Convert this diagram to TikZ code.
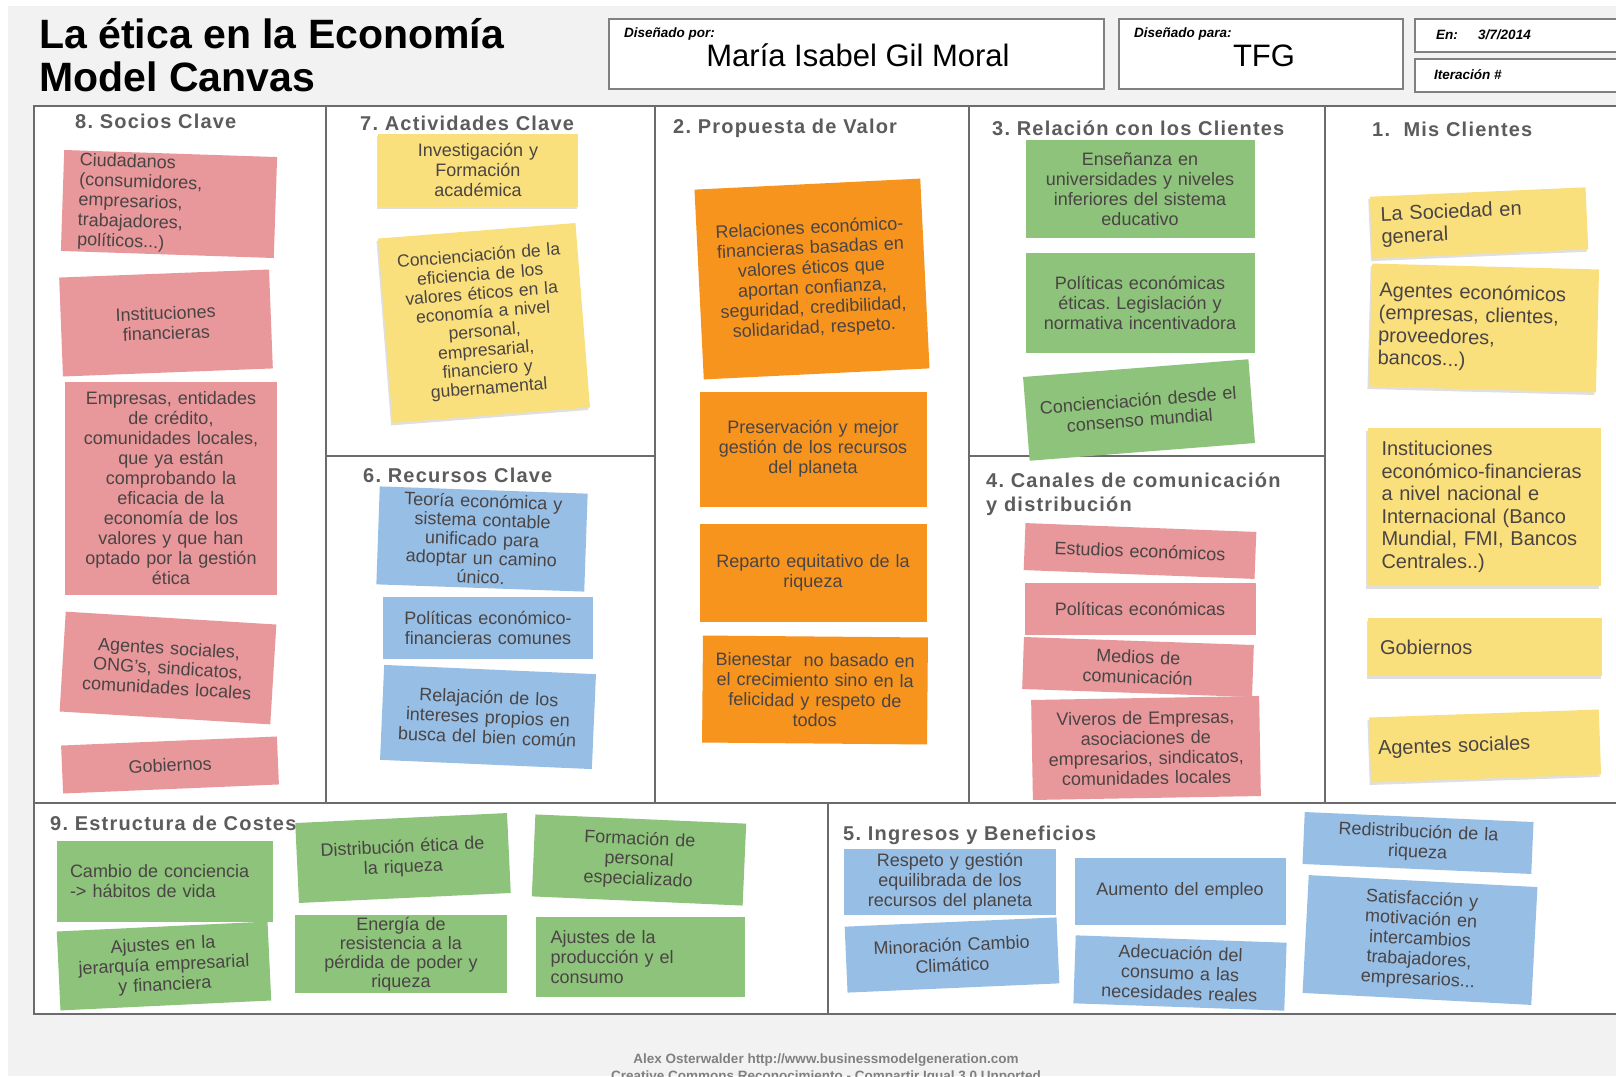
\documentclass[tikz,border=0pt]{standalone}
\usepackage{fontspec}
\setmainfont{Liberation Sans}
\newfontfamily\headfont[LetterSpace=6]{Liberation Sans}
\usetikzlibrary{shadows}
\frenchspacing
\hyphenpenalty=10000
\exhyphenpenalty=10000

\definecolor{pagegray}{HTML}{F2F2F2}
\definecolor{framegray}{HTML}{6B6B6B}
\definecolor{headgray}{HTML}{5C5C5C}
\definecolor{notetext}{HTML}{4A4444}
\definecolor{notepink}{HTML}{E8979B}
\definecolor{noteyellow}{HTML}{FAE07C}
\definecolor{noteorange}{HTML}{F7941E}
\definecolor{notegreen}{HTML}{8DC37A}
\definecolor{noteblue}{HTML}{97BFE6}

\def\notefont{\fontsize{18}{20}\selectfont}
\def\clientfont{\fontsize{20}{22.5}\selectfont}

\tikzset{
	sticky/.style={inner xsep=10, inner ysep=0, text=notetext, font=\notefont, align=center},
	pinknote/.style={sticky, fill=notepink},
	yellownote/.style={sticky, fill=noteyellow, drop shadow={opacity=0.25, shadow xshift=-1.5pt, shadow yshift=-2.5pt}},
	orangenote/.style={sticky, fill=noteorange},
	greennote/.style={sticky, fill=notegreen},
	bluenote/.style={sticky, fill=noteblue},
	heading/.style={anchor=base west, inner sep=0, text=headgray, font=\headfont\bfseries\fontsize{20}{24}\selectfont},
	divider/.style={draw=framegray, line width=2},
	infobox/.style={draw=black!50, line width=1.2, fill=white},
	infolabel/.style={anchor=base west, inner sep=0, font=\bfseries\itshape\fontsize{13.5}{16}\selectfont},
}

\begin{document}
\begin{tikzpicture}[x=1pt, y=-1pt]
			%%%%% START %%%%%
			\useasboundingbox (0,0) rectangle (1616,1076);
			\fill[pagegray] (8,6) rectangle (1616,1076);
			
			% title and header boxes
			\node[anchor=base west, inner sep=0, font=\bfseries\fontsize{41}{44}\selectfont] (title1) at (39,48) {La ética en la Economía};
			\node[anchor=base west, inner sep=0, font=\bfseries\fontsize{41}{44}\selectfont] (title2) at (39,91) {Model Canvas};
			
			\draw[infobox] (609,19) rectangle (1104,89);
			\draw[infobox] (1119,19) rectangle (1403,89);
			\draw[infobox] (1415,19) rectangle (1640,52);
			\draw[infobox] (1415,59) rectangle (1640,92);
			
			\node[infolabel] (porlabel) at (624,37) {Diseñado por:};
			\node[anchor=base, inner sep=0, font=\fontsize{31}{34}\selectfont] (autora) at (858,66) {María Isabel Gil Moral};
			\node[infolabel] (paralabel) at (1134,37) {Diseñado para:};
			\node[anchor=base, inner sep=0, font=\fontsize{31}{34}\selectfont] (destino) at (1264,66) {TFG};
			\node[infolabel] (enlabel) at (1436,39) {En:};
			\node[infolabel] (fecha) at (1478,39) {3/7/2014};
			\node[infolabel] (iteracion) at (1434,79) {Iteración \#};
			
			% canvas frame
			\draw[draw=framegray, line width=2.6, fill=white] (34,106) rectangle (1640,1014);
			\draw[divider] (326,106) -- (326,803);
			\draw[divider] (655,106) -- (655,803);
			\draw[divider] (969,106) -- (969,803);
			\draw[divider] (1325,106) -- (1325,803);
			\draw[divider] (34,803) -- (1640,803);
			\draw[divider] (326,456) -- (655,456);
			\draw[divider] (969,456) -- (1325,456);
			\draw[divider] (828,803) -- (828,1014);
			
			% headings
			\node[heading] (socios) at (75,128) {8. Socios Clave};
			\node[heading] (actividades) at (360,130) {7. Actividades Clave};
			\node[heading] (propuesta) at (673,133) {2. Propuesta de Valor};
			\node[heading] (relacion) at (992,135) {3. Relación con los Clientes};
			\node[heading] (clientes) at (1372,136) {1.\ \ Mis Clientes};
			\node[heading] (recursos) at (363,482) {6. Recursos Clave};
			\node[heading] (canales) at (986,487) {4. Canales de comunicación};
			\node[heading] (canales2) at (986,511) {y distribución};
			\node[heading] (costes) at (50,830) {9. Estructura de Costes};
			\node[heading] (ingresos) at (843,840) {5. Ingresos y Beneficios};
			
			% 8. socios clave
			\node[pinknote, align=left, inner xsep=16, text width=181, minimum height=101, rotate=-1.9] (ciudadanos) at (169,204) {Ciudadanos\\(consumidores,\\empresarios,\\trabajadores,\\políticos...)};
			\node[pinknote, text width=190, minimum height=99, rotate=2.2] (instituciones) at (166,323) {Instituciones\\financieras};
			\node[pinknote, text width=192, minimum height=213] (empresas) at (171,488) {Empresas, entidades\\de crédito,\\comunidades locales,\\que ya están\\comprobando la\\eficacia de la\\economía de los\\valores y que han\\optado por la gestión\\ética};
			\node[pinknote, text width=191, minimum height=100, rotate=-3.5] (agentes) at (168,668) {Agentes sociales,\\ONG’s, sindicatos,\\comunidades locales};
			\node[pinknote, text width=196, minimum height=48, rotate=2.4] (gobiernos) at (170,765) {Gobiernos};
			
			% 7. actividades clave
			\node[yellownote, text width=180, minimum height=73] (investigacion) at (478,170) {Investigación y\\Formación\\académica};
			\node[yellownote, font=\fontsize{17.5}{19}\selectfont, text width=178, minimum height=185, rotate=4.5] (concienciacion) at (484,323) {Concienciación de la\\eficiencia de los\\valores éticos en la\\economía a nivel\\personal,\\empresarial,\\financiero y\\gubernamental};
			
			% 6. recursos clave
			\node[bluenote, font=\fontsize{18}{19}\selectfont, text width=188, minimum height=98, rotate=-2] (teoria) at (482,539) {Teoría económica y\\sistema contable\\unificado para\\adoptar un camino\\único.};
			\node[bluenote, text width=190, minimum height=62] (politicas) at (488,628) {Políticas económico-\\financieras comunes};
			\node[bluenote, text width=192, minimum height=95, rotate=-2.5] (relajacion) at (488,717) {Relajación de los\\intereses propios en\\busca del bien común};
			
			% 2. propuesta de valor
			\node[orangenote, text width=206, minimum height=190, rotate=2.8] (relaciones) at (812,279) {Relaciones económico-\\financieras basadas en\\valores éticos que\\aportan confianza,\\seguridad, credibilidad,\\solidaridad, respeto.\\[14pt]};
			\node[orangenote, text width=207, minimum height=115] (preservacion) at (813,449) {Preservación y mejor\\gestión de los recursos\\del planeta};
			\node[orangenote, text width=207, minimum height=98] (reparto) at (813,573) {Reparto equitativo de la\\riqueza};
			\node[orangenote, text width=205, minimum height=107, rotate=-0.5] (bienestar) at (815,690) {Bienestar\ \ no basado en\\el crecimiento sino en la\\felicidad y respeto de\\todos};
			
			% 3. relacion con los clientes
			\node[greennote, text width=209, minimum height=98] (ensenanza) at (1140,189) {Enseñanza en\\universidades y niveles\\inferiores del sistema\\educativo};
			\node[greennote, text width=209, minimum height=100] (politicaseticas) at (1140,303) {Políticas económicas\\éticas. Legislación y\\normativa incentivadora};
			\node[greennote, text width=206, minimum height=84, rotate=4.5] (consenso) at (1139,410) {Concienciación desde el\\consenso mundial};
			
			% 4. canales
			\node[pinknote, text width=211, minimum height=47, rotate=-2.2] (estudios) at (1140,551) {Estudios económicos};
			\node[pinknote, text width=211, minimum height=52] (politicaseco) at (1140,609) {Políticas económicas};
			\node[pinknote, text width=210, minimum height=52, rotate=-2] (medios) at (1138,667) {Medios de\\comunicación};
			\node[pinknote, text width=208, minimum height=100, rotate=1] (viveros) at (1146,748) {Viveros de Empresas,\\asociaciones de\\empresarios, sindicatos,\\comunidades locales};
			
			% 1. mis clientes
			\node[yellownote, font=\clientfont, align=left, text width=196, minimum height=62, rotate=2.5] (sociedad) at (1479,223) {La Sociedad en\\general};
			\node[yellownote, font=\clientfont, align=left, inner xsep=8, text width=211, minimum height=123, rotate=-1.5] (agenteseco) at (1484,328) {Agentes económicos\\(empresas, clientes,\\proveedores,\\bancos...)};
			\node[yellownote, font=\clientfont, align=left, inner xsep=14, text width=205, minimum height=158] (institucioneseco) at (1484,507) {Instituciones\\económico-financieras\\a nivel nacional e\\Internacional (Banco\\Mundial, FMI, Bancos\\Centrales..)};
			\node[yellownote, font=\clientfont, align=left, inner xsep=12, text width=210, minimum height=58] (gobiernosc) at (1485,647) {Gobiernos\\[8pt]};
			\node[yellownote, font=\clientfont, align=left, inner xsep=8, text width=214, minimum height=65, rotate=2] (agentesoc) at (1485,746) {Agentes sociales};
			
			% 9. estructura de costes
			\node[greennote, align=left, inner xsep=13, text width=190, minimum height=81] (cambio) at (165,881) {Cambio de conciencia\\-> hábitos de vida};
			\node[greennote, text width=191, minimum height=79, rotate=2.7] (jerarquia) at (164,966) {Ajustes en la\\jerarquía empresarial\\y financiera};
			\node[greennote, text width=192, minimum height=80, rotate=2.7] (distribucion) at (403,858) {Distribución ética de\\la riqueza};
			\node[greennote, font=\fontsize{18}{19}\selectfont, text width=192, minimum height=78] (energia) at (401,954) {Energía de\\resistencia a la\\pérdida de poder y\\riqueza};
			\node[greennote, text width=191, minimum height=82, rotate=-2.5] (formacion) at (639,860) {Formación de\\personal\\especializado};
			\node[greennote, align=left, inner xsep=15, text width=179, minimum height=80] (produccion) at (640,957) {Ajustes de la\\producción y el\\consumo};
			
			% 5. ingresos y beneficios
			\node[bluenote, text width=192, minimum height=66] (respeto) at (950,882) {Respeto y gestión\\equilibrada de los\\recursos del planeta};
			\node[bluenote, text width=192, minimum height=66, rotate=2.5] (minoracion) at (952,955) {Minoración Cambio\\Climático};
			\node[bluenote, text width=191, minimum height=67] (empleo) at (1180,891) {Aumento del empleo};
			\node[bluenote, text width=191, minimum height=68, rotate=-2] (adecuacion) at (1180,973) {Adecuación del\\consumo a las\\necesidades reales};
			\node[bluenote, text width=209, minimum height=52, rotate=-2.5] (redistribucion) at (1418,843) {Redistribución de la\\riqueza};
			\node[bluenote, text width=209, minimum height=118, rotate=-3] (satisfaccion) at (1420,940) {Satisfacción y\\motivación en\\intercambios\\trabajadores,\\empresarios...};
			
			% credits
			\node[anchor=base, inner sep=0, text=black!50, font=\bfseries\fontsize{13.5}{16}\selectfont] (credito1) at (826,1063) {Alex Osterwalder http://www.businessmodelgeneration.com};
			\node[anchor=base, inner sep=0, text=black!50, font=\bfseries\fontsize{13.5}{16}\selectfont] (credito2) at (826,1080) {Creative Commons Reconocimiento - Compartir Igual 3.0 Unported};
			%%%%% END %%%%%
\end{tikzpicture}
\end{document}
